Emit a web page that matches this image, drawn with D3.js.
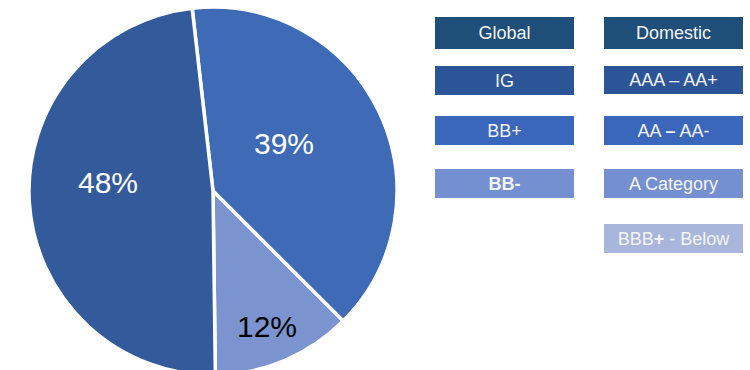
<!DOCTYPE html>
<html><head><meta charset="utf-8">
<script src="https://cdn.jsdelivr.net/npm/d3@7"></script>
<style>body{margin:0;background:#fff;}svg{display:block;font-family:"Liberation Sans",Arial,sans-serif;}</style>
</head><body>
<svg id="c" width="750" height="370"></svg>
<script>
// data
const sliceNames = ["BB+", "BB-", "IG"];
const sliceValues = [39.3, 12.3, 48.4];
const leftLegend = ["Global", "IG", "BB+", "BB-"];
const rightLegend = ["Domestic", "AAA – AA+", "AA – AA-", "A Category", "BBB+ - Below"];

const sliceColors = ["#3F6BB6", "#7B94CF", "#335A9A"];
const labelColors = ["#ffffff", "#000000", "#ffffff"];
const legendColors = ["#1F4E79", "#2B5597", "#3A66BC", "#7590D0", "#A9B6DC"];

const svg = d3.select("#c");
const cx = 213, cy = 191, r = 184;
const g = svg.append("g").attr("transform", `translate(${cx},${cy})`);
const startA = -6.5 * Math.PI / 180;
const pie = d3.pie().sort(null).value(d => d).startAngle(startA).endAngle(startA + 2 * Math.PI);
const arcs = pie(sliceValues);
const arc = d3.arc().innerRadius(0).outerRadius(r);
g.selectAll("path").data(arcs).join("path")
  .attr("d", arc)
  .attr("fill", (d, i) => sliceColors[i])
  .attr("stroke", "#fff").attr("stroke-width", 3.5).attr("stroke-linejoin", "miter");

const labelPos = [[71, -48], [54, 135], [-105, -9]];
g.selectAll("text.lbl").data(arcs).join("text")
  .attr("class", "lbl")
  .attr("x", (d, i) => labelPos[i][0]).attr("y", (d, i) => labelPos[i][1])
  .attr("text-anchor", "middle").attr("dy", "0.36em")
  .attr("font-size", 30)
  .attr("fill", (d, i) => labelColors[i])
  .text(d => Math.round(d.value) + "%");

// legend boxes
const colX = [435, 604], boxW = 139;
const leftY = [17, 66, 116, 169], leftH = [32, 29, 29, 29];
const rightY = [17, 66, 116, 169, 224], rightH = [32, 28, 29, 29, 29];

function drawBox(x, y, h, color, label) {
  svg.append("rect").attr("x", x).attr("y", y).attr("width", boxW).attr("height", h).attr("fill", color);
  const t = svg.append("text").attr("x", x + boxW / 2).attr("y", y + h / 2).attr("dy", "0.36em")
    .attr("text-anchor", "middle").attr("font-size", 18).attr("fill", "#F4F4F4");
  if (label === "BB-") {
    t.attr("font-weight", "bold").text(label);
  } else if (label === "AA – AA-") {
    t.append("tspan").text("AA ");
    t.append("tspan").attr("font-weight", "bold").text("–");
    t.append("tspan").text(" AA-");
  } else if (label === "BBB+ - Below") {
    t.append("tspan").text("BBB");
    t.append("tspan").attr("font-weight", "bold").text("+");
    t.append("tspan").text(" - Below");
  } else {
    t.text(label);
  }
}
leftLegend.forEach((l, i) => drawBox(colX[0], leftY[i], leftH[i], legendColors[i], l));
rightLegend.forEach((l, i) => drawBox(colX[1], rightY[i], rightH[i], legendColors[i], l));
</script>
</body></html>
